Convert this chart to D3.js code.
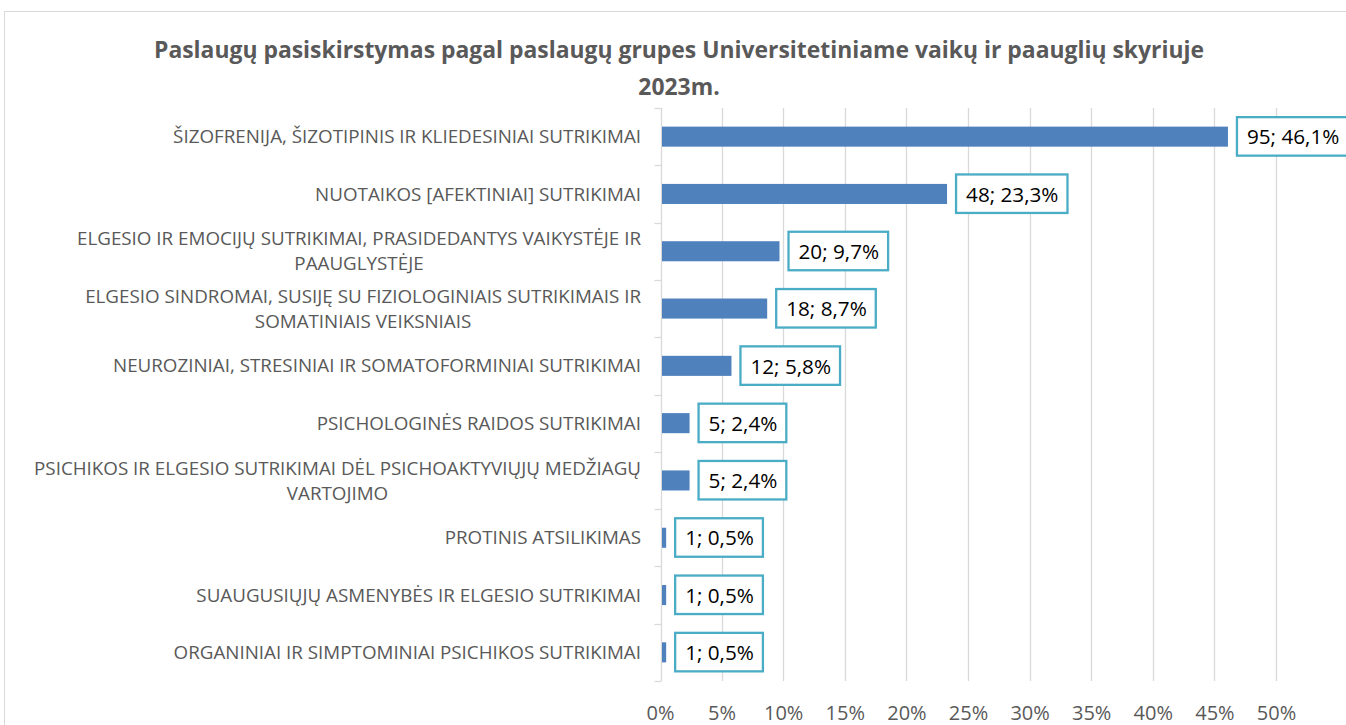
<!DOCTYPE html>
<html>
<head>
<meta charset="utf-8">
<script src="https://cdn.jsdelivr.net/npm/d3@7"></script>
<style>
  body { margin: 0; background: #fff; }
  svg text { font-family: "Open Sans", sans-serif; }
</style>
</head>
<body>
<div id="chart"></div>
<script>
const fig_width = 1346
const fig_height = 725

// chart data
const categories = [
  ["ŠIZOFRENIJA, ŠIZOTIPINIS IR KLIEDESINIAI SUTRIKIMAI"],
  ["NUOTAIKOS [AFEKTINIAI] SUTRIKIMAI"],
  ["ELGESIO IR EMOCIJŲ SUTRIKIMAI, PRASIDEDANTYS VAIKYSTĖJE IR", "PAAUGLYSTĖJE"],
  ["ELGESIO SINDROMAI, SUSIJĘ SU FIZIOLOGINIAIS SUTRIKIMAIS IR", "SOMATINIAIS VEIKSNIAIS"],
  ["NEUROZINIAI, STRESINIAI IR SOMATOFORMINIAI SUTRIKIMAI"],
  ["PSICHOLOGINĖS RAIDOS SUTRIKIMAI"],
  ["PSICHIKOS IR ELGESIO SUTRIKIMAI DĖL PSICHOAKTYVIŲJŲ MEDŽIAGŲ", "VARTOJIMO"],
  ["PROTINIS ATSILIKIMAS"],
  ["SUAUGUSIŲJŲ ASMENYBĖS IR ELGESIO SUTRIKIMAI"],
  ["ORGANINIAI IR SIMPTOMINIAI PSICHIKOS SUTRIKIMAI"]
]
const counts = [95, 48, 20, 18, 12, 5, 5, 1, 1, 1]
const shares = [0.461, 0.233, 0.097, 0.087, 0.058, 0.024, 0.024, 0.005, 0.005, 0.005]
const x_ticks = [0, 0.05, 0.10, 0.15, 0.20, 0.25, 0.30, 0.35, 0.40, 0.45, 0.50]
const title_lines = ["Paslaugų pasiskirstymas pagal paslaugų grupes Universitetiniame vaikų ir paauglių skyriuje", "2023m."]

const rows = categories.map((c, i) => ({id: i, label: c, count: counts[i], share: shares[i]}))

const text_grey = '#595959'
const grid_grey = '#d9d9d9'
const bar_blue = '#4f81bd'
const box_teal = '#4bacc6'

let svg = d3.select('#chart')
    .append('svg')
    .attr('width', fig_width)
    .attr('height', fig_height)

// chart frame (runs off the right and bottom of the picture)
svg.append('rect')
    .attr('x', 4.5).attr('y', 11.5)
    .attr('width', 1400).attr('height', 800)
    .attr('fill', '#fff')
    .attr('stroke', grid_grey)

let plot_top = 108
let plot_bottom = 681
let x = d3.scaleLinear().domain([0, 0.5]).range([660, 1276])
let axis_x = 661.5
let y = d3.scaleBand()
    .domain(rows.map(r => r.id))
    .range([plot_top, plot_bottom])
    .paddingInner(0.65)
    .paddingOuter(0.325)

// title
svg.append('g').selectAll('text')
    .data(title_lines)
    .join('text')
    .attr('x', 679)
    .attr('y', (d, i) => 58 + i * 37)
    .attr('text-anchor', 'middle')
    .attr('fill', text_grey)
    .style('font-size', '22.9px')
    .style('font-weight', 'bold')
    .text(d => d)

// vertical gridlines
svg.append('g').selectAll('line')
    .data(x_ticks.slice(1))
    .join('line')
    .attr('x1', d => Math.round(x(d)) + 0.5)
    .attr('x2', d => Math.round(x(d)) + 0.5)
    .attr('y1', plot_top).attr('y2', plot_bottom)
    .attr('stroke', grid_grey)
    .attr('stroke-width', 1.3)

// x axis labels
let xAxis = svg.append('g')
    .attr('transform', `translate(0,${plot_bottom})`)
    .call(d3.axisBottom(x).tickValues(x_ticks).tickFormat(d3.format('.0%')).tickSize(0).tickPadding(25))
xAxis.select('.domain').remove()
xAxis.selectAll('text')
    .attr('fill', text_grey)
    .style('font-size', '20px')
    .style('font-family', '"Open Sans", sans-serif')

// category axis: line plus outer ticks at band boundaries
let step = y.step()
let boundaries = d3.range(rows.length + 1).map(k => plot_top + k * step)
let yAxis = svg.append('g')
yAxis.append('line')
    .attr('x1', axis_x).attr('x2', axis_x)
    .attr('y1', plot_top).attr('y2', plot_bottom)
    .attr('stroke', grid_grey)
    .attr('stroke-width', 1.3)
yAxis.selectAll('line.tick')
    .data(boundaries)
    .join('line')
    .attr('class', 'tick')
    .attr('x1', axis_x - 7).attr('x2', axis_x)
    .attr('y1', d => Math.round(d) + 0.5).attr('y2', d => Math.round(d) + 0.5)
    .attr('stroke', grid_grey)
    .attr('stroke-width', 1.3)

// category labels; wrapped lines are centred on the widest line
let label_right = 641
let line_gap = 25
let labels = svg.append('g').selectAll('g')
    .data(rows)
    .join('g')
labels.each(function(r) {
    let g = d3.select(this)
    let cy = y(r.id) + y.bandwidth() / 2
    let n = r.label.length
    let texts = g.selectAll('text')
        .data(r.label)
        .join('text')
        .attr('y', (d, i) => cy + (i - (n - 1) / 2) * line_gap)
        .attr('dy', '0.35em')
        .attr('fill', text_grey)
        .style('font-size', '18.8px')
        .text(d => d)
    let maxW = d3.max(texts.nodes(), t => t.getComputedTextLength())
    texts.attr('text-anchor', 'middle').attr('x', label_right - maxW / 2)
})

// bars start at the axis line
svg.append('g').selectAll('rect')
    .data(rows)
    .join('rect')
    .attr('x', axis_x + 0.5)
    .attr('y', d => y(d.id))
    .attr('width', d => Math.max(2, x(d.share) - axis_x - 0.5))
    .attr('height', y.bandwidth())
    .attr('fill', bar_blue)

// data labels in boxes
let fmt = d3.format('.1f')
let dl = svg.append('g').selectAll('g')
    .data(rows)
    .join('g')
dl.each(function(r) {
    let g = d3.select(this)
    let cy = y(r.id) + y.bandwidth() / 2
    let bx = Math.max(x(r.share), axis_x + 2.5) + 9
    let box = g.append('rect')
        .attr('y', cy - 19.5)
        .attr('height', 38.5)
        .attr('fill', '#fff')
        .attr('stroke', box_teal)
        .attr('stroke-width', 2.3)
    let t = g.append('text')
        .attr('x', bx + 10)
        .attr('y', cy)
        .attr('dy', '0.37em')
        .attr('fill', '#000')
        .style('font-size', '20.7px')
        .text(`${r.count}; ${fmt(r.share * 100).replace('.', ',')}%`)
    let w = t.node().getComputedTextLength()
    box.attr('x', bx).attr('width', w + 19)
})
</script>
</body>
</html>
